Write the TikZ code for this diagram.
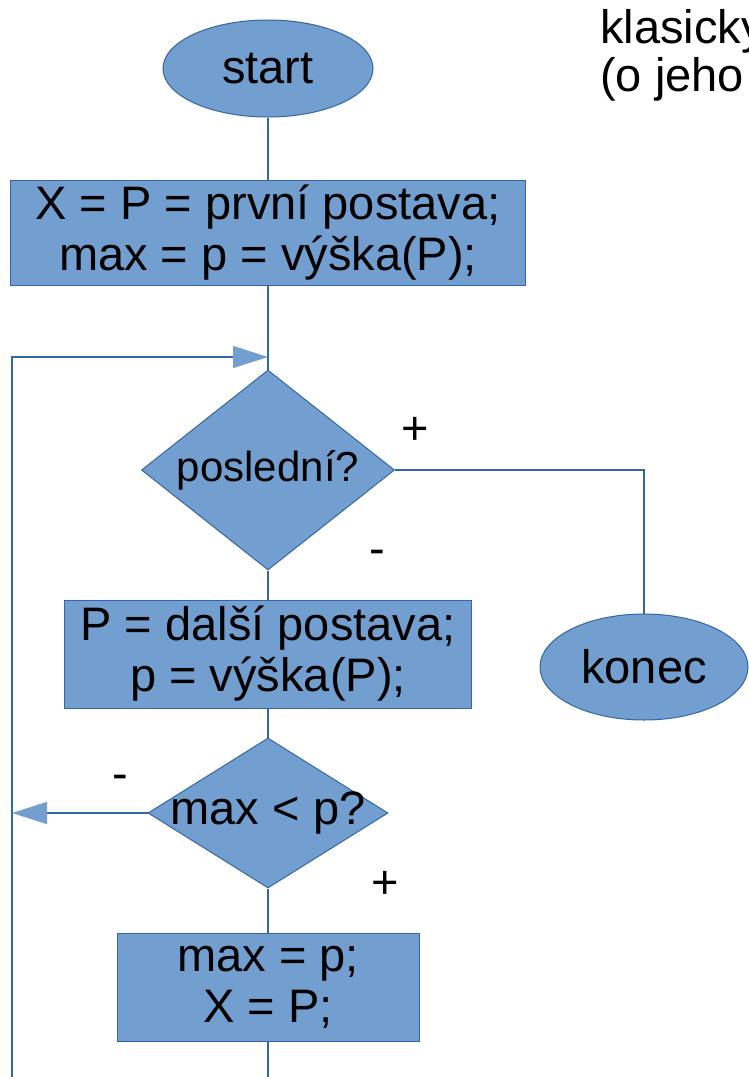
\documentclass[tikz,border=0pt]{standalone}
\usepackage{fontspec}
\setmainfont{Liberation Sans}
\usetikzlibrary{shapes.geometric,arrows.meta}
\definecolor{boxfill}{HTML}{729FCF}
\definecolor{boxline}{HTML}{3465A4}

\begin{document}
\begin{tikzpicture}[x=1pt,y=-1pt]
	\tikzset{every node/.style={font=\fontsize{47}{51}\selectfont}}
	\tikzset{shp/.style={draw=boxline,fill=boxfill,line width=1pt,inner sep=0pt}}
	\tikzset{oval/.style={shp,ellipse}}
	\tikzset{cmd/.style={shp,rectangle,align=center}}
	\tikzset{cond/.style={shp,diamond}}
	\tikzset{flow/.style={draw=boxline,line width=1.2pt}}
	\tikzset{tip/.style={-{Triangle[length=35pt,width=22pt,fill=boxfill,color=boxfill]}}}
	\useasboundingbox (0,0) rectangle (748,1077);
	% shapes
	\node[oval,minimum width=210pt,minimum height=97pt] (start) at (268,68.5) {start};
	\node[cmd,minimum width=515pt,minimum height=105pt] (init) at (268,232.5) {X = P = první postava;\\max = p = výška(P);};
	\node[cond,minimum width=253pt,minimum height=200pt,label={[font=\fontsize{42}{46}\selectfont]center:poslední?}] (last) at (268,470) {};
	\node[oval,minimum width=208pt,minimum height=106pt] (konec) at (644,667) {konec};
	\node[cmd,minimum width=407pt,minimum height=108pt] (next) at (268,654) {P = další postava;\\p = výška(P);};
	\node[cond,minimum width=240pt,minimum height=150pt,label={center:max < p?}] (cmp) at (268,813) {};
	\node[cmd,minimum width=302pt,minimum height=108pt] (upd) at (268,987) {max = p;\\X = P;};
	% branch signs
	\node (plusA) at (415,431) {+};
	\node (minusA) at (377,557) {-};
	\node (minusB) at (120,782) {-};
	\node (plusB) at (385,885) {+};
	% cut off note
	\node[anchor=base west,inner sep=0pt] (noteA) at (600,43) {klasicky};
	\node[anchor=base west,inner sep=0pt] (noteB) at (600,91) {(o jeho};
	% free ends
	\coordinate (join) at (268,357);
	\coordinate (loopTop) at (12,357);
	\coordinate (loopEnd) at (12,1077);
	\coordinate (outL) at (12,813);
	\coordinate (tail) at (268,1077);
	% connectors
	\draw[flow] (start.south) -- (init.north);
	\draw[flow] (init.south) -- (last.north);
	\draw[flow,tip] (loopEnd) -- (loopTop) -- (join);
	\draw[flow] (last.east) -| (konec.north);
	\draw[flow] (last.south) -- (next.north);
	\draw[flow] (next.south) -- (cmp.north);
	\draw[flow,tip] (cmp.west) -- (outL);
	\draw[flow] (cmp.south) -- (upd.north);
	\draw[flow] (upd.south) -- (tail);
\end{tikzpicture}
\end{document}
